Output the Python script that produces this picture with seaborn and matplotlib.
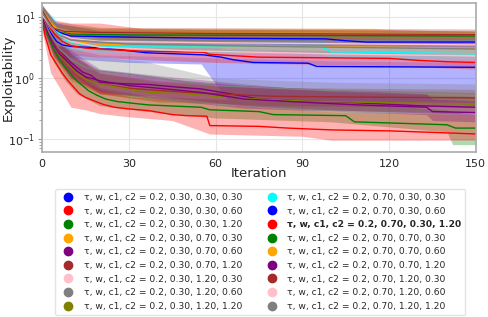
import matplotlib
matplotlib.use("Agg")
import matplotlib.pyplot as plt
import pandas as pd
import seaborn as sns
from matplotlib.lines import Line2D

# parameter settings (tau, w, c1, c2)
labels = [
    "τ, w, c1, c2 = 0.2, 0.30, 0.30, 0.30",
    "τ, w, c1, c2 = 0.2, 0.30, 0.30, 0.60",
    "τ, w, c1, c2 = 0.2, 0.30, 0.30, 1.20",
    "τ, w, c1, c2 = 0.2, 0.30, 0.70, 0.30",
    "τ, w, c1, c2 = 0.2, 0.30, 0.70, 0.60",
    "τ, w, c1, c2 = 0.2, 0.30, 0.70, 1.20",
    "τ, w, c1, c2 = 0.2, 0.30, 1.20, 0.30",
    "τ, w, c1, c2 = 0.2, 0.30, 1.20, 0.60",
    "τ, w, c1, c2 = 0.2, 0.30, 1.20, 1.20",
    "τ, w, c1, c2 = 0.2, 0.70, 0.30, 0.30",
    "τ, w, c1, c2 = 0.2, 0.70, 0.30, 0.60",
    "τ, w, c1, c2 = 0.2, 0.70, 0.30, 1.20",
    "τ, w, c1, c2 = 0.2, 0.70, 0.70, 0.30",
    "τ, w, c1, c2 = 0.2, 0.70, 0.70, 0.60",
    "τ, w, c1, c2 = 0.2, 0.70, 0.70, 1.20",
    "τ, w, c1, c2 = 0.2, 0.70, 1.20, 0.30",
    "τ, w, c1, c2 = 0.2, 0.70, 1.20, 0.60",
    "τ, w, c1, c2 = 0.2, 0.70, 1.20, 1.20",
]
colors = ["blue", "red", "green", "orange", "purple", "brown", "pink", "gray", "olive",
          "cyan", "blue", "red", "green", "orange", "purple", "brown", "pink", "gray"]
best = 11  # bold entry in legend

# mean exploitability: (iteration, value)
s1 = [(0, 11), (1, 8), (3, 5.5), (5, 4), (7, 3.5), (10, 3.3), (22, 3.1), (36, 2.6), (56, 2.4),
      (62, 2.2), (66, 2.0), (73, 1.8), (92, 1.75), (95, 1.55), (150, 1.5)]
s2 = [(0, 12), (2, 8), (4, 5.5), (7, 4), (10, 3.4), (15, 3.1), (25, 2.9), (35, 2.75), (56, 2.65),
      (58, 2.45), (75, 2.2), (120, 2.1), (130, 1.95), (140, 1.85), (150, 1.8)]
s3 = [(0, 10), (2, 5), (4, 3), (6, 2), (8, 1.5), (10, 1.15), (12, 0.9), (14, 0.75), (16, 0.62),
      (19, 0.52), (22, 0.45), (26, 0.41), (30, 0.39), (37, 0.36), (55, 0.33), (58, 0.3), (75, 0.28),
      (80, 0.25), (105, 0.24), (108, 0.19), (140, 0.17), (143, 0.15), (150, 0.15)]
s4 = [(0, 12), (3, 7), (6, 5), (10, 4), (20, 3.6), (40, 3.4), (80, 3.3), (120, 3.2), (150, 3.1)]
s5 = [(0, 11), (2, 6), (4, 4), (6, 3), (8, 2.3), (10, 1.8), (12, 1.5), (14, 1.25), (17, 1.1),
      (20, 0.85), (25, 0.82), (30, 0.8), (37, 0.78), (45, 0.72), (55, 0.66), (65, 0.55), (75, 0.45),
      (90, 0.42), (105, 0.4), (130, 0.35), (150, 0.33)]
s6 = [(0, 11), (2, 6), (4, 4), (6, 2.8), (8, 2.1), (10, 1.6), (13, 1.2), (16, 0.95), (20, 0.8),
      (30, 0.68), (37, 0.64), (50, 0.58), (60, 0.55), (80, 0.5), (100, 0.49), (150, 0.47)]
s7 = [(0, 12), (3, 8), (6, 5.5), (10, 4.5), (20, 4.0), (60, 3.8), (120, 3.6), (150, 3.5)]
s8 = [(0, 10), (3, 5), (6, 3), (10, 2), (15, 1.5), (20, 1.3), (30, 1.15), (40, 1.0), (50, 0.85),
      (60, 0.75), (80, 0.68), (100, 0.62), (130, 0.58), (150, 0.55)]
s9 = [(0, 10), (2, 5.5), (4, 3.5), (6, 2.4), (9, 1.7), (12, 1.2), (15, 0.95), (20, 0.8), (30, 0.65),
      (37, 0.58), (50, 0.55), (60, 0.5), (75, 0.45), (90, 0.42), (110, 0.4), (150, 0.37)]
s10 = [(0, 12), (2, 9), (6, 5.4), (8, 4.2), (12, 3.7), (21, 3.25), (97, 3.2), (100, 2.7), (150, 2.5)]
s11 = [(0, 13), (3, 7), (7, 5.4), (10, 4.9), (30, 4.7), (60, 4.5), (98, 4.4), (105, 4.1),
       (112, 3.9), (150, 3.9)]
s12 = [(0, 9), (1, 5), (2, 3.5), (3, 2.4), (5, 1.7), (7, 1.2), (9, 0.9), (11, 0.7), (13, 0.55),
       (15, 0.48), (18, 0.42), (21, 0.37), (25, 0.33), (30, 0.31), (37, 0.29), (45, 0.25), (50, 0.24),
       (57, 0.235), (58, 0.165), (75, 0.16), (85, 0.15), (100, 0.14), (120, 0.135), (140, 0.125),
       (150, 0.12)]
s13 = [(0, 12), (3, 8), (6, 6), (10, 5.3), (30, 5.1), (150, 4.9)]
s14 = [(0, 13), (3, 8), (6, 6), (10, 5.6), (40, 5.5), (150, 5.3)]
s15 = [(0, 10), (2, 5.5), (4, 3.5), (6, 2.5), (9, 1.8), (12, 1.3), (15, 1.05), (20, 0.9), (30, 0.75),
       (40, 0.68), (55, 0.58), (70, 0.45), (90, 0.4), (110, 0.36), (133, 0.33), (135, 0.28), (150, 0.27)]
s16 = [(0, 13), (2, 9), (4, 6.5), (8, 5.8), (20, 5.6), (60, 5.4), (150, 5.2)]
s17 = [(0, 11), (3, 7), (6, 5), (10, 4), (20, 3.2), (50, 2.8), (100, 2.5), (150, 2.3)]
s18 = [(0, 12), (3, 7), (6, 5), (10, 4.2), (30, 3.6), (80, 3.3), (150, 3.0)]

# spread across runs: (iteration, low, high)
b1 = [(0, 8, 14), (3, 3.5, 8), (7, 2.3, 5), (15, 2.0, 4.5), (30, 1.8, 3.6), (55, 1.7, 3.3),
      (60, 0.8, 3.2), (64, 0.45, 3.0), (100, 0.42, 2.8), (135, 0.4, 2.5), (150, 0.4, 2.3)]
b2 = [(0, 9, 15), (4, 3.5, 9), (10, 2.4, 8), (20, 2.2, 8), (35, 2.0, 6.5), (60, 1.8, 6.3),
      (118, 1.6, 6.3), (150, 1.4, 5.8)]
b3 = [(0, 7, 13), (4, 1.8, 4.5), (8, 0.9, 2.2), (12, 0.55, 1.4), (20, 0.35, 0.7), (37, 0.28, 0.5),
      (60, 0.22, 0.45), (100, 0.19, 0.4), (140, 0.13, 0.3), (142, 0.08, 0.28), (150, 0.08, 0.25)]
b4 = [(0, 9, 15), (5, 3.8, 6.5), (20, 2.8, 4.6), (80, 2.6, 4.2), (150, 2.5, 4.0)]
b5 = [(0, 8, 14), (4, 2.6, 6), (10, 1.2, 2.8), (20, 0.55, 1.4), (40, 0.5, 1.1), (70, 0.35, 0.8),
      (100, 0.3, 0.6), (150, 0.25, 0.5)]
b6 = [(0, 8, 14), (4, 2.5, 6), (10, 1.0, 2.5), (20, 0.55, 1.2), (40, 0.42, 0.9), (80, 0.35, 0.7),
      (150, 0.33, 0.65)]
b7 = [(0, 9, 16), (5, 4, 8), (15, 3.0, 6.5), (40, 2.9, 5.5), (150, 2.7, 4.8)]
b8 = [(0, 7, 13), (5, 2, 5), (12, 1.0, 2.6), (20, 0.8, 2.2), (35, 0.75, 1.9), (50, 0.6, 1.3),
      (60, 0.5, 1.0), (100, 0.45, 0.85), (150, 0.4, 0.8)]
b9 = [(0, 7, 13), (4, 2.2, 5.5), (10, 0.9, 2.3), (20, 0.55, 1.2), (40, 0.4, 0.85), (60, 0.38, 0.75),
      (90, 0.3, 0.65), (150, 0.27, 0.55)]
b10 = [(0, 9, 15), (4, 5, 10), (8, 3.0, 6), (20, 2.6, 4.2), (97, 2.5, 4.0), (100, 2.1, 3.5),
       (150, 2.0, 3.2)]
b11 = [(0, 10, 16), (5, 4.5, 8), (20, 3.6, 6), (100, 3.4, 5.6), (150, 3.0, 5.0)]
b12 = [(0, 6, 13), (3, 1.2, 4), (6, 0.7, 2.5), (10, 0.33, 1.6), (15, 0.3, 0.9), (20, 0.26, 0.65),
       (30, 0.23, 0.5), (45, 0.2, 0.42), (58, 0.12, 0.38), (90, 0.11, 0.3), (100, 0.095, 0.28),
       (150, 0.095, 0.25)]
b13 = [(0, 9, 15), (5, 4.5, 7.5), (20, 4.2, 6.5), (150, 4.0, 6.0)]
b14 = [(0, 10, 16), (5, 4.8, 7.5), (20, 4.5, 6.6), (115, 4.5, 6.6), (120, 4.4, 6.1), (150, 4.3, 6.0)]
b15 = [(0, 7, 13), (4, 2.3, 5.5), (10, 1.0, 2.5), (20, 0.6, 1.3), (40, 0.45, 1.0), (70, 0.32, 0.75),
       (133, 0.25, 0.55), (135, 0.2, 0.45), (150, 0.19, 0.42)]
b16 = [(0, 10, 16), (4, 5, 8.5), (20, 4.6, 6.8), (150, 4.3, 6.4)]
b17 = [(0, 8, 14), (5, 3.5, 7), (20, 2.4, 4.4), (100, 1.9, 3.4), (150, 1.8, 3.1)]
b18 = [(0, 9, 15), (5, 3.8, 6.5), (20, 2.8, 4.8), (150, 2.4, 3.8)]

means = [s1, s2, s3, s4, s5, s6, s7, s8, s9, s10, s11, s12, s13, s14, s15, s16, s17, s18]
bands = [b1, b2, b3, b4, b5, b6, b7, b8, b9, b10, b11, b12, b13, b14, b15, b16, b17, b18]

sns.set_style("whitegrid")
plt.rcParams['font.family'] = ['DejaVu Sans']

fig = plt.figure(figsize=(4.89, 3.17), dpi=100)
ax = fig.add_axes([0.086, 0.521, 0.887, 0.469])

for m, b, c in zip(means, bands, colors):
    dm = pd.DataFrame(m, columns=["iteration", "value"])
    db = pd.DataFrame(b, columns=["iteration", "low", "high"])
    ax.fill_between(db["iteration"], db["low"], db["high"], color=c, alpha=0.3, lw=0)
    sns.lineplot(data=dm, x="iteration", y="value", color=c, lw=1.0, ax=ax, legend=False)

ax.set_yscale("log")
ax.set_xlim(0, 150)
ax.set_ylim(0.061, 17)
ax.set_xticks([0, 30, 60, 90, 120, 150])
ax.set_xlabel("Iteration", fontsize=9.5)
ax.xaxis.set_label_coords(0.5, -0.105)
ax.set_ylabel("Exploitability", fontsize=9.5)
ax.yaxis.set_label_coords(-0.064, 0.5)
ax.tick_params(axis="both", labelsize=8, pad=2)
ax.tick_params(axis="y", which="minor", left=True, length=2, width=0.6, color="#999999")
ax.tick_params(axis="y", which="major", left=True, length=3, width=0.8, color="#999999")
ax.grid(True, which="major", color="#e6e6e6", lw=0.8)
for sp in ax.spines.values():
    sp.set_color("#aaaaaa")
    sp.set_linewidth(1.2)

handles = [Line2D([], [], marker="o", ls="", color=c, markersize=6) for c in colors]
leg = fig.legend(handles, labels, ncol=2, loc="upper center", bbox_to_anchor=(0.532, 0.404),
                 fontsize=6.6, frameon=True, handletextpad=0.7, columnspacing=2.2,
                 labelspacing=0.5, borderpad=0.45, borderaxespad=0)
leg.get_frame().set_edgecolor("#dddddd")
leg.get_texts()[best].set_fontweight("bold")

fig.savefig("out.png", dpi=100)
